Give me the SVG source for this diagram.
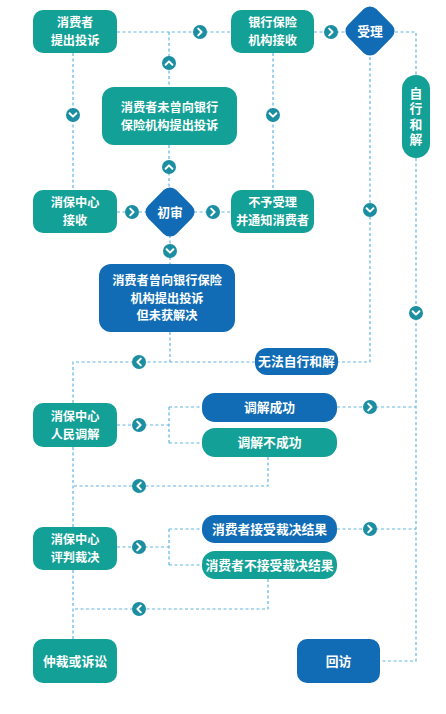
<svg xmlns="http://www.w3.org/2000/svg" width="446" height="714" viewBox="0 0 446 714">
<defs>
<style>
.t{fill:#13a096}
.b{fill:#116cb5}
.txt{font-family:"Noto Sans CJK SC","Noto Sans",sans-serif;font-weight:bold;font-size:12.2px;fill:#fff;text-anchor:middle}
.s{font-size:12.8px}
.vt{writing-mode:vertical-rl;text-orientation:upright;letter-spacing:2.8px}
.ln{fill:none;stroke:#62b5e5;stroke-width:1.2;stroke-dasharray:3 2.5}
.cc{fill:#1b8ea2}
.cv{fill:none;stroke:#fff;stroke-width:2;stroke-linecap:round;stroke-linejoin:round}
</style>
<g id="chev">
<circle r="7" class="cc"/>
<polyline class="cv" points="-1.8,-3.4 1.6,0 -1.8,3.4"/>
</g>
</defs>
<rect width="446" height="714" fill="#fff"/>
<g id="connectors">
<path class="ln" d="M117,32H231 M169,32V87 M314,32H345 M395,32H416V75 M416,158V661H380"/>
<path class="ln" d="M73,53V190 M273,53V190 M169,145V189 M117,212H148 M194,212H231 M170,235V264"/>
<path class="ln" d="M370,57V362H338 M170,332V362 M255,362H73V403"/>
<path class="ln" d="M117,425H169 M169,407V443 M169,407H202 M169,443H202 M337,407H416"/>
<path class="ln" d="M268,457V486H73 M73,447V527"/>
<path class="ln" d="M117,547H169 M169,529V565 M169,529H202 M169,565H202 M337,529H416"/>
<path class="ln" d="M268,579V609H73 M73,570V639"/>
<use href="#chev" x="200" y="32"/>
<use href="#chev" x="331" y="32"/>
<use href="#chev" transform="translate(169,63) rotate(-90)"/>
<use href="#chev" transform="translate(169,167) rotate(-90)"/>
<use href="#chev" transform="translate(73,115) rotate(90)"/>
<use href="#chev" transform="translate(273,115) rotate(90)"/>
<use href="#chev" x="132" y="212"/>
<use href="#chev" x="213" y="212"/>
<use href="#chev" transform="translate(370,210) rotate(90)"/>
<use href="#chev" transform="translate(170,251) rotate(90)"/>
<use href="#chev" transform="translate(416,313) rotate(90)"/>
<use href="#chev" transform="translate(139,362) rotate(180)"/>
<use href="#chev" x="139" y="425"/>
<use href="#chev" x="370" y="407"/>
<use href="#chev" transform="translate(139,486) rotate(180)"/>
<use href="#chev" x="139" y="547"/>
<use href="#chev" x="370" y="529"/>
<use href="#chev" transform="translate(139,609) rotate(180)"/>
</g>
<g id="n1"><rect class="t" x="33" y="10" width="84" height="43" rx="10"/><text class="txt" x="75" y="27.4">消费者<tspan x="75" dy="17.7">提出投诉</tspan></text></g>
<g id="n2"><rect class="t" x="231" y="10" width="83" height="43" rx="10"/><text class="txt" x="272.5" y="27.4">银行保险<tspan x="272.5" dy="17.7">机构接收</tspan></text></g>
<g id="n3"><rect class="b" x="350" y="11" width="40" height="40" rx="9" transform="rotate(45 370 31)"/><text class="txt s" x="370" y="36">受理</text></g>
<g id="n4"><rect class="t" x="402" y="75" width="28" height="83" rx="14"/><text class="txt s vt" x="416" y="117.5">自行和解</text></g>
<g id="n5"><rect class="t" x="102" y="87" width="135" height="58" rx="12"/><text class="txt" x="169.5" y="111.9">消费者未曾向银行<tspan x="169.5" dy="17.7">保险机构提出投诉</tspan></text></g>
<g id="n6"><rect class="t" x="33" y="190" width="84" height="43" rx="10"/><text class="txt" x="75" y="207.4">消保中心<tspan x="75" dy="17.7">接收</tspan></text></g>
<g id="n7"><rect class="b" x="150" y="192" width="40" height="40" rx="9" transform="rotate(45 170 212)"/><text class="txt s" x="170" y="217">初审</text></g>
<g id="n8"><rect class="t" x="231" y="190" width="83" height="43" rx="10"/><text class="txt" x="272.5" y="207.4">不予受理<tspan x="272.5" dy="17.7">并通知消费者</tspan></text></g>
<g id="n9"><rect class="b" x="99" y="264" width="136" height="68" rx="12"/><text class="txt" x="167" y="285">消费者曾向银行保险<tspan x="167" dy="17.7">机构提出投诉</tspan><tspan x="167" dy="17.7">但未获解决</tspan></text></g>
<g id="n10"><rect class="b" x="255" y="348" width="83" height="27" rx="12"/><text class="txt s" x="296.5" y="366">无法自行和解</text></g>
<g id="n11"><rect class="t" x="33" y="403" width="84" height="44" rx="10"/><text class="txt" x="75" y="420.9">消保中心<tspan x="75" dy="17.7">人民调解</tspan></text></g>
<g id="n12"><rect class="b" x="202" y="393" width="135" height="29" rx="13"/><text class="txt s" x="269.5" y="412">调解成功</text></g>
<g id="n13"><rect class="t" x="202" y="428" width="135" height="29" rx="13"/><text class="txt s" x="269.5" y="447">调解不成功</text></g>
<g id="n14"><rect class="t" x="33" y="527" width="84" height="43" rx="10"/><text class="txt" x="75" y="544.4">消保中心<tspan x="75" dy="17.7">评判裁决</tspan></text></g>
<g id="n15"><rect class="b" x="202" y="515" width="135" height="28" rx="13"/><text class="txt s" x="269.5" y="533.5">消费者接受裁决结果</text></g>
<g id="n16"><rect class="t" x="202" y="551" width="135" height="28" rx="13"/><text class="txt s" x="269.5" y="569.5">消费者不接受裁决结果</text></g>
<g id="n17"><rect class="t" x="33" y="639" width="84" height="44" rx="10"/><text class="txt s" x="75" y="665.5">仲裁或诉讼</text></g>
<g id="n18"><rect class="b" x="297" y="639" width="83" height="44" rx="10"/><text class="txt s" x="338.5" y="665.5">回访</text></g>
</svg>
